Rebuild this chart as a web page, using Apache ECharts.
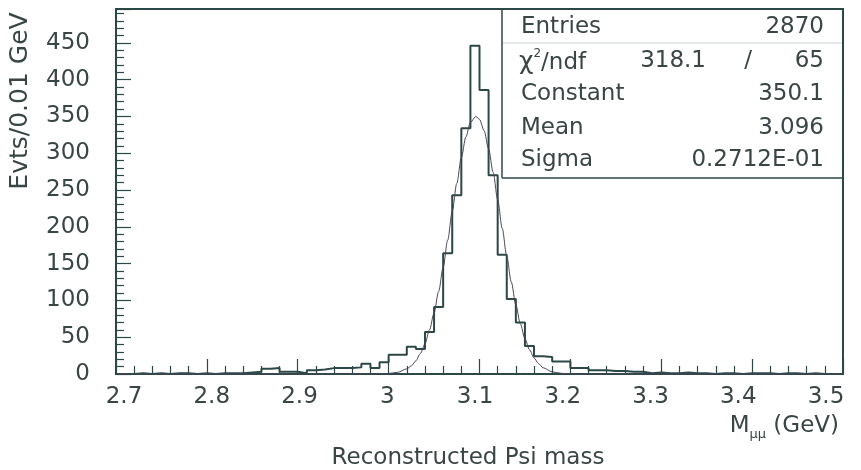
<!DOCTYPE html>
<html><head><meta charset="utf-8">
<script src="https://cdn.jsdelivr.net/npm/echarts@6/dist/echarts.min.js"></script>
<style>html,body{margin:0;padding:0;background:#fff}#c{width:861px;height:470px}</style>
</head><body><div id="c"></div>
<script>
// ---- data ----
const binLow = 2.70;
const binWidth = 0.01;
const counts = [
  0,0,1,0,1,0,1,1,0,1,          // 2.70-2.79
  0,1,1,1,2,3,7,8,3,3,          // 2.80-2.89
  1,5,6,8,8,8,9,14,8,16,        // 2.90-2.99
  26,26,37,34,57,91,164,243,334,446, // 3.00-3.09
  386,270,162,102,70,38,24,23,17,17, // 3.10-3.19
  8,8,5,5,4,4,3,3,1,2,          // 3.20-3.29
  1,1,2,1,1,0,1,1,0,1,          // 3.30-3.39
  1,1,0,1,1,0,1,0,0,0           // 3.40-3.49
];
const fitX = [2.70,2.95,2.98,2.99,3.00,3.01,3.02,3.025,3.03,3.035,3.04,3.045,3.05,3.055,3.06,3.065,3.07,3.075,3.08,3.085,3.09,3.096,3.10,3.105,3.11,3.115,3.12,3.125,3.13,3.135,3.14,3.145,3.15,3.155,3.16,3.165,3.17,3.18,3.19,3.20,3.21,3.50];
const fitY = [0,0,0,0.2,0.7,2.3,7,11,18,28,41,60,83,112,145,182,221,259,294,322,342,350,346,331,306,274,237,198,160,125,94,68,48,33,22,14,8.5,2.9,0.9,0.2,0,0];
const xTickLabels = ['2.7','2.8','2.9','3','3.1','3.2','3.3','3.4','3.5'];
const xTickValues = [2.7,2.8,2.9,3.0,3.1,3.2,3.3,3.4,3.5];
const yTickLabels = ['0','50','100','150','200','250','300','350','400','450'];
const statNames = ['Entries','Constant','Mean','Sigma'];
const statValues = ['2870','350.1','3.096','0.2712E-01'];
const chi2 = '318.1', ndf = '65';
const yTitle = 'Evts/0.01 GeV';
const xTitle = 'Reconstructed Psi mass';

// ---- chart ----
const FONT = '"DejaVu Sans", sans-serif';
const TXT = '#3a4545';
const LINE = '#2c4846';
const FS = 23;
const histData = counts.map((c, i) => [+(binLow + i * binWidth).toFixed(2), c]);
histData.push([+(binLow + counts.length * binWidth).toFixed(2), counts[counts.length - 1]]);
const fitData = fitX.map((x, i) => [x, fitY[i]]);

const chart = echarts.init(document.getElementById('c'), null, {renderer: 'canvas'});
const statRowsY = [27, 94, 128, 160];
const graphics = [];
// stats box
graphics.push({type: 'line', shape: {x1: 502, y1: 9, x2: 502, y2: 178}, style: {stroke: LINE, lineWidth: 1.5}});
graphics.push({type: 'line', shape: {x1: 502, y1: 178, x2: 843, y2: 178}, style: {stroke: LINE, lineWidth: 1.5}});
graphics.push({type: 'line', shape: {x1: 503, y1: 43, x2: 842, y2: 43}, style: {stroke: '#c9d2d2', lineWidth: 1}});
statNames.forEach((n, i) => {
  graphics.push({type: 'text', x: 521, y: statRowsY[i], style: {text: n, font: FS + 'px ' + FONT, fill: TXT, textAlign: 'left', textVerticalAlign: 'middle'}});
  graphics.push({type: 'text', x: 824, y: statRowsY[i], style: {text: statValues[i], font: FS + 'px ' + FONT, fill: TXT, textAlign: 'right', textVerticalAlign: 'middle'}});
});
graphics.push({type: 'text', x: 519, y: 61, style: {
  text: '{g|χ}{s|2}{a|/ndf}', fill: TXT, textAlign: 'left', textVerticalAlign: 'middle',
  rich: {g: {font: '25px ' + FONT, fill: TXT, lineHeight: 27, verticalAlign: 'bottom'},
         s: {font: '12px ' + FONT, fill: TXT, lineHeight: 27, verticalAlign: 'top'},
         a: {font: FS + 'px ' + FONT, fill: TXT, lineHeight: 27, verticalAlign: 'bottom'}}}});
graphics.push({type: 'text', x: 706, y: 61, style: {text: chi2, font: FS + 'px ' + FONT, fill: TXT, textAlign: 'right', textVerticalAlign: 'middle'}});
graphics.push({type: 'text', x: 748, y: 61, style: {text: '/', font: FS + 'px ' + FONT, fill: TXT, textAlign: 'center', textVerticalAlign: 'middle'}});
graphics.push({type: 'text', x: 824, y: 61, style: {text: ndf, font: FS + 'px ' + FONT, fill: TXT, textAlign: 'right', textVerticalAlign: 'middle'}});
// titles
graphics.push({type: 'text', x: 20, y: 101, rotation: Math.PI / 2, style: {text: yTitle, font: '25px ' + FONT, fill: TXT, textAlign: 'center', textVerticalAlign: 'middle'}});
graphics.push({type: 'text', x: 468, y: 458, style: {text: xTitle, font: FS + 'px ' + FONT, fill: TXT, textAlign: 'center', textVerticalAlign: 'middle'}});
graphics.push({type: 'text', x: 839, y: 428, style: {
  text: '{a|M}{b|μμ}{a| (GeV)}', fill: TXT, textAlign: 'right', textVerticalAlign: 'middle',
  rich: {a: {font: FS + 'px ' + FONT, fill: TXT, lineHeight: 27, verticalAlign: 'top'},
         b: {font: '13px ' + FONT, fill: TXT, lineHeight: 27, verticalAlign: 'bottom', padding: [10, 0, 0, 0]}}}});

chart.setOption({
  animation: false,
  backgroundColor: '#ffffff',
  grid: {left: 116, right: 18, top: 9, bottom: 96, show: true, borderColor: LINE, borderWidth: 2, backgroundColor: 'transparent'},
  xAxis: [{
    type: 'value', min: 2.7, max: 3.5, interval: 0.1,
    axisLine: {show: true, lineStyle: {color: LINE, width: 2}},
    axisTick: {show: true, inside: true, length: 15, lineStyle: {color: LINE, width: 1.2}},
    minorTick: {show: true, splitNumber: 5, length: 8, lineStyle: {color: LINE, width: 1.2}},
    axisLabel: {show: false}, splitLine: {show: false}
  }, {
    type: 'value', min: 2.69088, max: 3.51937, position: 'bottom',
    axisLine: {show: false}, axisTick: {show: false}, splitLine: {show: false},
    axisLabel: {show: true, customValues: xTickValues, margin: 12, color: TXT, fontSize: FS, fontFamily: FONT,
      formatter: v => { const i = xTickValues.findIndex(t => Math.abs(t - v) < 1e-6); return i >= 0 ? xTickLabels[i] : ''; }}
  }],
  yAxis: [{
    type: 'value', min: 0, max: 496, interval: 50,
    axisLine: {show: true, lineStyle: {color: LINE, width: 2}},
    axisTick: {show: true, inside: true, length: 15, lineStyle: {color: LINE, width: 1.2}},
    minorTick: {show: true, splitNumber: 5, length: 8, lineStyle: {color: LINE, width: 1.2}},
    axisLabel: {show: true, margin: 26, color: TXT, fontSize: FS, fontFamily: FONT, showMaxLabel: false,
      formatter: v => { const i = Math.round(v / 50); return (Math.abs(v - i * 50) < 1e-6 && i < yTickLabels.length) ? yTickLabels[i] : ''; }},
    splitLine: {show: false}
  }],
  series: [{
    type: 'line', name: 'hist', step: 'end', data: histData, xAxisIndex: 0, yAxisIndex: 0,
    symbol: 'none', lineStyle: {color: LINE, width: 2}, z: 3
  }, {
    type: 'line', name: 'fit', data: fitData, xAxisIndex: 0, yAxisIndex: 0,
    smooth: 0.3, smoothMonotone: 'x',
    symbol: 'none', lineStyle: {color: '#4b4458', width: 1}, z: 4
  }],
  graphic: graphics
});
</script></body></html>
